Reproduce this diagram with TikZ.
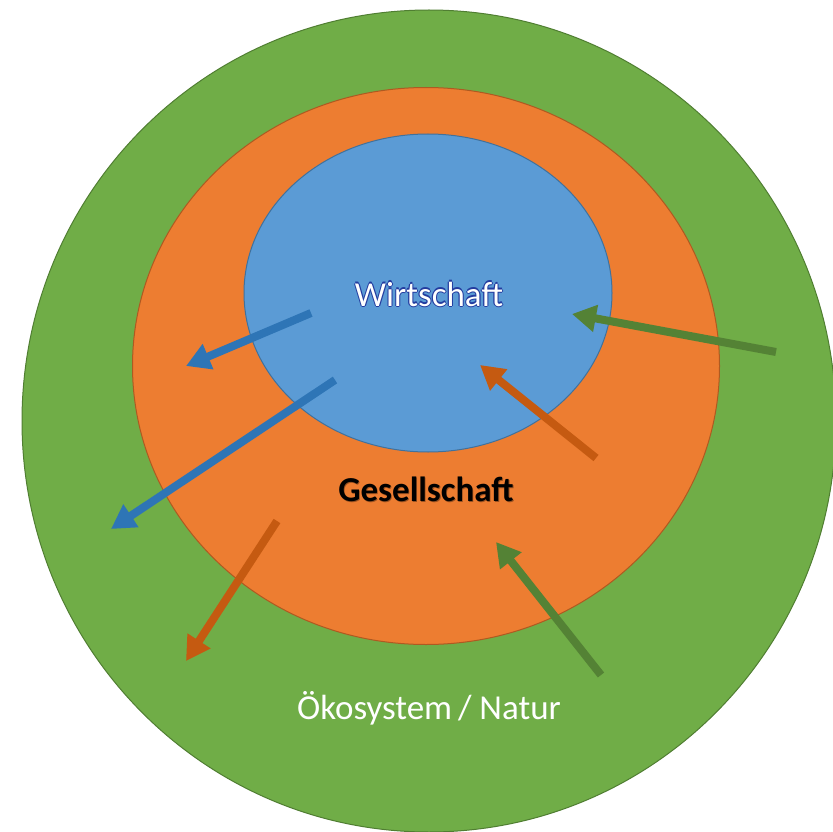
\documentclass[tikz,border=0pt]{standalone}
\usepackage{fontspec}
\setmainfont{Carlito}
\usetikzlibrary{shapes.geometric,arrows.meta}
\definecolor{natfill}{HTML}{70AD47}
\definecolor{natline}{HTML}{507E32}
\definecolor{gesfill}{HTML}{ED7D31}
\definecolor{gesline}{HTML}{AE5A21}
\definecolor{wirfill}{HTML}{5B9BD5}
\definecolor{wirline}{HTML}{41719C}
\definecolor{greenarrow}{HTML}{548235}
\definecolor{orangearrow}{HTML}{C55A11}
\definecolor{bluearrow}{HTML}{2E75B6}
\colorlet{halo}{wirfill!55!black!70!blue}
\colorlet{shade}{gesfill!65!black}
% white word with a soft dark rim around it
\newcommand\haloword[1]{\setbox0\hbox{#1}%
  \rlap{\kern-1.1pt\textcolor{halo}{\copy0}}%
  \rlap{\kern1.1pt\textcolor{halo}{\copy0}}%
  \rlap{\raisebox{1.1pt}{\textcolor{halo}{\copy0}}}%
  \rlap{\raisebox{-1.1pt}{\textcolor{halo}{\copy0}}}%
  \textcolor{white}{\copy0}}
% black word with a faint offset shadow
\newcommand\shadedword[1]{\setbox0\hbox{#1}%
  \rlap{\kern0.8pt\raisebox{-0.8pt}{\textcolor{shade}{\copy0}}}%
  \copy0}
\tikzset{
  zone/.style={ellipse, draw, line width=1pt, inner sep=0pt},
  flow/.style={line width=8pt, -{Triangle[length=24pt,width=26pt]}},
  label/.style={font=\fontsize{35}{40}\selectfont, inner sep=0pt}
}
\begin{document}
\begin{tikzpicture}[x=1pt,y=-1pt]
  \useasboundingbox (0,0) rectangle (833,832);
  % nested spheres
  \node[zone, fill=natfill, draw=natline, minimum width=814pt, minimum height=822pt] (natur) at (429,421) {};
  \node[zone, fill=gesfill, draw=gesline, minimum width=587pt, minimum height=557pt] (ges) at (426,366) {};
  \node[zone, fill=wirfill, draw=wirline, minimum width=368pt, minimum height=318pt] (wir) at (428,293) {};

  % labels
  \node[label] (twir) at (429,294) {\haloword{Wirtschaft}};
  \node[label, text=black] (tges) at (426,490) {\shadedword{\bfseries Gesellschaft}};
  \node[label, text=white] (tnat) at (429,708) {Ökosystem\kern-2pt{} / Natur};

  % arrow end points
  \coordinate (g1s) at (776,352);  \coordinate (g1e) at (572,314);
  \coordinate (o1s) at (596,458);  \coordinate (o1e) at (480,365);
  \coordinate (b1s) at (311,313);  \coordinate (b1e) at (186,366);
  \coordinate (b2s) at (335,380);  \coordinate (b2e) at (111,529);
  \coordinate (o2s) at (277,521);  \coordinate (o2e) at (186,661);
  \coordinate (g2s) at (601,675);  \coordinate (g2e) at (496,542);

  % flows between the spheres
  \draw[flow, greenarrow] (g1s) -- (g1e);
  \draw[flow, orangearrow] (o1s) -- (o1e);
  \draw[flow, bluearrow] (b1s) -- (b1e);
  \draw[flow, bluearrow] (b2s) -- (b2e);
  \draw[flow, orangearrow] (o2s) -- (o2e);
  \draw[flow, greenarrow] (g2s) -- (g2e);
\end{tikzpicture}
\end{document}
